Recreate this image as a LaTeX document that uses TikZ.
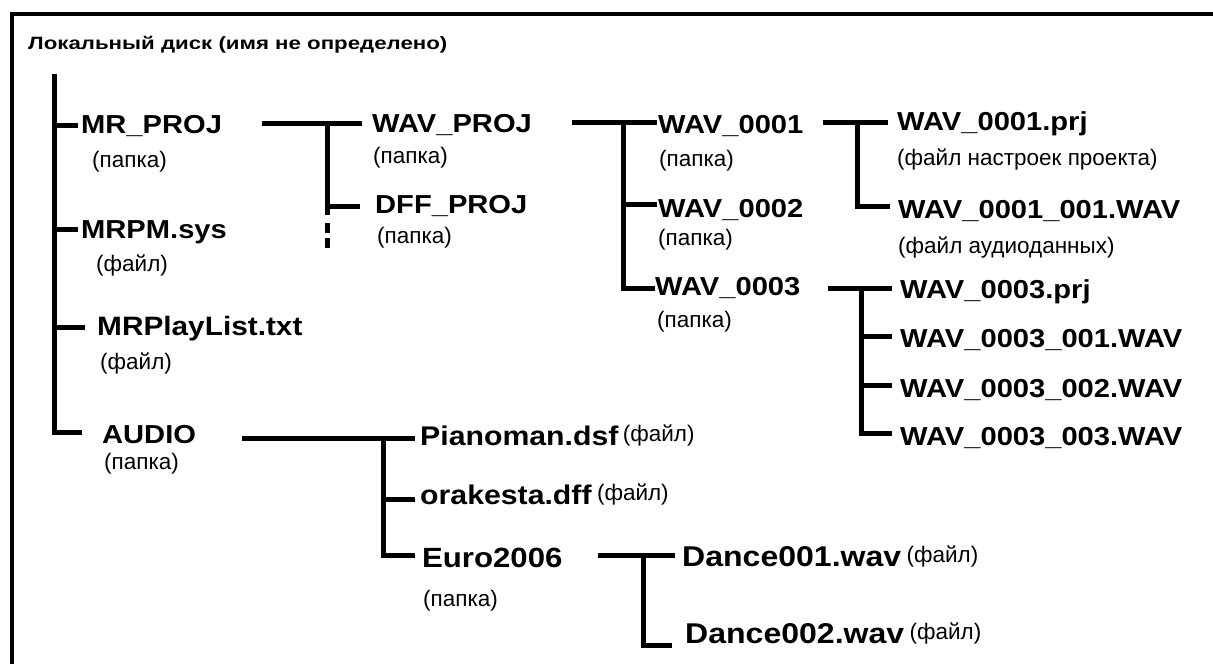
\documentclass[tikz,border=0pt]{standalone}
\usepackage{fontspec}
\setmainfont{Liberation Sans}
\newfontfamily\entryfont[FakeStretch=1.12]{Liberation Sans}
\newfontfamily\titlefont[FakeStretch=1.25]{Liberation Sans}
\usetikzlibrary{positioning}

\tikzset{
  entry/.style={anchor=base west, inner sep=0pt, font=\entryfont\bfseries\fontsize{#1}{28}\selectfont},
  entry/.default=26,
  remark/.style={anchor=west, inner sep=0pt, font=\fontsize{22.5}{24}\selectfont},
  branch/.style={line width=5pt},
}

\begin{document}
\begin{tikzpicture}[x=1pt, y=-1pt]
\useasboundingbox (0,0) rectangle (1213,664);

% frame, only top and left edges
\draw[line width=4pt] (12,664) -- (12,14) -- (1213,14);

\node[anchor=base west, inner sep=0pt, font=\titlefont\bfseries\fontsize{17.8}{19}\selectfont] (disk) at (28,49)
  {Локальный диск (имя не определено)};

% level 1
\node[entry] (mrproj) at (81,133) {MR\_PROJ};
\node[remark] (mrprojk) at (92,162) {(папка)};
\node[entry] (mrpm) at (81,238) {MRPM.sys};
\node[remark] (mrpmk) at (96,265) {(файл)};
\node[entry=26.6] (playlist) at (97,335) {MRPlayList.txt};
\node[remark] (playlistk) at (100,363) {(файл)};
\node[entry] (audio) at (102,443) {AUDIO};
\node[remark] (audiok) at (104,464) {(папка)};

% MR_PROJ
\node[entry] (wavproj) at (372,132) {WAV\_PROJ};
\node[remark] (wavprojk) at (373,158) {(папка)};
\node[entry] (dffproj) at (375,213) {DFF\_PROJ};
\node[remark] (dffprojk) at (377,238) {(папка)};

% WAV_PROJ
\node[entry] (wav1) at (658,133) {WAV\_0001};
\node[remark] (wav1k) at (659,161) {(папка)};
\node[entry] (wav2) at (658,217) {WAV\_0002};
\node[remark] (wav2k) at (658,240) {(папка)};
\node[entry] (wav3) at (655,295) {WAV\_0003};
\node[remark] (wav3k) at (657,322) {(папка)};

% WAV_0001
\node[entry] (prj1) at (897,130) {WAV\_0001.prj};
\node[remark] (prj1k) at (897,159) {(файл настроек проекта)};
\node[entry] (take1) at (898,218) {WAV\_0001\_001.WAV};
\node[remark] (take1k) at (898,247) {(файл аудиоданных)};

% WAV_0003
\node[entry] (prj3) at (900,298) {WAV\_0003.prj};
\foreach \i/\yy in {1/347, 2/397, 3/445}
  \node[entry] (take3\i) at (900,\yy) {WAV\_0003\_00\i.WAV};

% AUDIO
\node[entry=27] (piano) at (420,445) {Pianoman.dsf};
\node[remark, right=4pt of piano] (pianok) {(файл)};
\node[entry=27] (orak) at (420,504) {orakesta.dff};
\node[remark, right=5pt of orak] (orakk) {(файл)};
\node[entry=27.8] (euro) at (422,567) {Euro2006};
\node[remark] (eurok) at (423,601) {(папка)};

% Euro2006
\node[entry=28.6] (dance1) at (682,566) {Dance001.wav};
\node[remark, right=5pt of dance1] (dance1k) {(файл)};
\node[entry=28.6] (dance2) at (685,643) {Dance002.wav};
\node[remark, right=5pt of dance2] (dance2k) {(файл)};

% tree lines
\coordinate (r0) at (54,74);
\coordinate (r1) at (78,125);
\coordinate (r2) at (78,229);
\coordinate (r3) at (85,327);
\coordinate (r4) at (82,432);
\draw[branch] (r0) |- (r4);
\foreach \c in {r1,r2,r3}
  \draw[branch] (r0 |- \c) -- (\c);

\coordinate (a0) at (262,123);
\coordinate (a1) at (362,123);
\coordinate (av) at (327,123);
\coordinate (a2) at (360,206);
\coordinate (a3) at (327,215);
\coordinate (a4) at (327,223);
\coordinate (a5) at (327,248);
\draw[branch] (a0) -- (a1);
\draw[branch] (av) -- (a3);
\draw[branch] (av |- a2) -- (a2);
\draw[branch, dash pattern=on 10pt off 5pt] (a4) -- (a5);

\coordinate (b0) at (572,122);
\coordinate (b1) at (657,122);
\coordinate (bv) at (623,122);
\coordinate (b2) at (657,204);
\coordinate (b3) at (655,288);
\draw[branch] (b0) -- (b1);
\draw[branch] (bv) |- (b3);
\draw[branch] (bv |- b2) -- (b2);

\coordinate (c0) at (823,122);
\coordinate (c1) at (888,122);
\coordinate (cv) at (857,122);
\coordinate (c2) at (890,206);
\draw[branch] (c0) -- (c1);
\draw[branch] (cv) |- (c2);

\coordinate (d0) at (828,288);
\coordinate (d1) at (892,288);
\coordinate (dv) at (861,288);
\coordinate (d2) at (892,336);
\coordinate (d3) at (892,385);
\coordinate (d4) at (892,433);
\draw[branch] (d0) -- (d1);
\draw[branch] (dv) |- (d4);
\foreach \c in {d2,d3}
  \draw[branch] (dv |- \c) -- (\c);

\coordinate (e0) at (242,438);
\coordinate (e1) at (415,438);
\coordinate (ev) at (383,438);
\coordinate (e2) at (415,499);
\coordinate (e3) at (415,555);
\draw[branch] (e0) -- (e1);
\draw[branch] (ev) |- (e3);
\draw[branch] (ev |- e2) -- (e2);

\coordinate (f0) at (598,555);
\coordinate (f1) at (675,555);
\coordinate (fv) at (643,555);
\coordinate (f2) at (672,645);
\draw[branch] (f0) -- (f1);
\draw[branch] (fv) |- (f2);

\end{tikzpicture}
\end{document}
